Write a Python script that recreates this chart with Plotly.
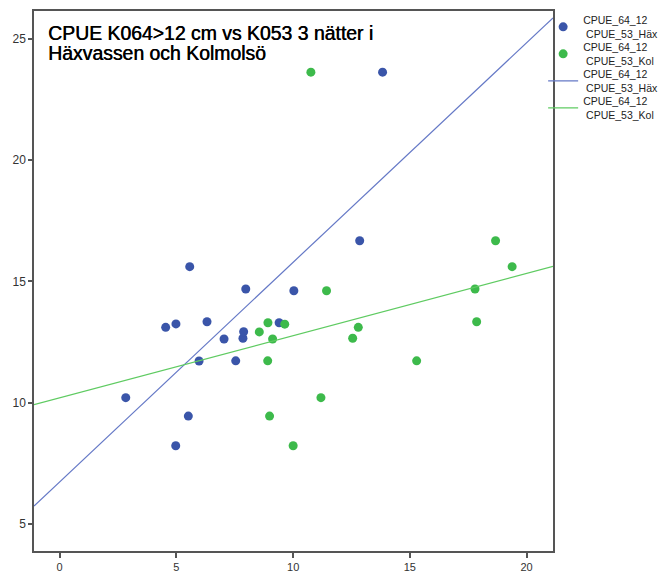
import numpy as np
import plotly.graph_objects as go

# CPUE_64_12 (y) vs CPUE_53 (x) for two lakes
hax_x = [2.83, 4.54, 4.98, 5.57, 5.51, 4.97, 5.97, 6.31, 7.04, 7.54, 7.97, 7.85, 7.88, 9.40, 10.03, 13.83, 12.85]
hax_y = [10.21, 13.11, 13.25, 15.61, 9.45, 8.23, 11.72, 13.34, 12.63, 11.73, 14.69, 12.66, 12.93, 13.30, 14.62, 23.63, 16.68]

kol_x = [19.38, 17.79, 17.86, 11.43, 8.92, 8.55, 9.64, 9.12, 12.79, 12.55, 8.91, 15.29, 11.19, 8.99, 10.00, 10.76, 18.67]
kol_y = [15.61, 14.69, 13.34, 14.62, 13.30, 12.92, 13.24, 12.63, 13.11, 12.66, 11.73, 11.73, 10.21, 9.45, 8.23, 23.63, 16.68]

x_ticks = [0, 5, 10, 15, 20]
y_ticks = [5, 10, 15, 20, 25]
names = ["CPUE_64_12<br> CPUE_53_Häx", "CPUE_64_12<br> CPUE_53_Kol"]
title_lines = ["CPUE K064>12 cm vs K053 3 nätter i", "Häxvassen och Kolmolsö"]

x_range = [-1.10, 21.13]
y_range = [3.89, 26.15]

blue = "#3a55a9"
green = "#3dba4b"
blue_line = "#6478c6"
green_line = "#5fcb62"
FONT = "Liberation Sans, Arial, sans-serif"

fig = go.Figure()
fig.add_trace(go.Scatter(x=hax_x, y=hax_y, mode="markers", name=names[0], legend="legend",
                         marker=dict(color=blue, size=9, line=dict(width=0))))
fig.add_trace(go.Scatter(x=kol_x, y=kol_y, mode="markers", name=names[1], legend="legend2",
                         marker=dict(color=green, size=9, line=dict(width=0))))

xl = np.array(x_range)
for xs, ys, col, nm, lg in [(hax_x, hax_y, blue_line, names[0], "legend3"),
                            (kol_x, kol_y, green_line, names[1], "legend4")]:
    b, a = np.polyfit(xs, ys, 1)
    fig.add_trace(go.Scatter(x=xl, y=a + b * xl, mode="lines", name=nm, legend=lg,
                             line=dict(color=col, width=1.2)))

annots = []
for i, (txt, yy) in enumerate(zip(title_lines, [0.983, 0.947])):
    annots.append(dict(text=txt, xref="paper", yref="paper",
                       x=0.0, y=yy, xanchor="left", yanchor="top", xshift=12,
                       showarrow=False, align="left",
                       font=dict(size=19.4, color="#000", family=FONT,
                                 shadow="0.5px 0 0 #000")))

legend_style = dict(x=0.981, xanchor="left", yanchor="top", xref="paper", yref="paper",
                    font=dict(size=10.5, color="#222"), itemwidth=30,
                    bgcolor="rgba(0,0,0,0)")
legend_tops = [1.008, 0.958, 0.908, 0.858]

fig.update_layout(
    width=661, height=572,
    margin=dict(l=34, r=108, t=11, b=21, autoexpand=False),
    paper_bgcolor="white", plot_bgcolor="white",
    font=dict(family=FONT, size=11, color="#222"),
    showlegend=True,
    legend=dict(legend_style, y=legend_tops[0]),
    legend2=dict(legend_style, y=legend_tops[1]),
    legend3=dict(legend_style, y=legend_tops[2]),
    legend4=dict(legend_style, y=legend_tops[3]),
    xaxis=dict(range=x_range, tickvals=x_ticks, showgrid=False, zeroline=False,
               showline=True, mirror=True, linecolor="#555", linewidth=1.5,
               ticks="outside", ticklen=5, tickcolor="#555", tickwidth=1.5,
               tickfont=dict(size=11, color="#333")),
    yaxis=dict(range=y_range, tickvals=y_ticks, showgrid=False, zeroline=False,
               showline=True, mirror=True, linecolor="#555", linewidth=1.5,
               ticks="outside", ticklen=4, tickcolor="#555", tickwidth=1.5,
               tickfont=dict(size=12, color="#333")),
    annotations=annots,
)

fig.write_html("out.html")
